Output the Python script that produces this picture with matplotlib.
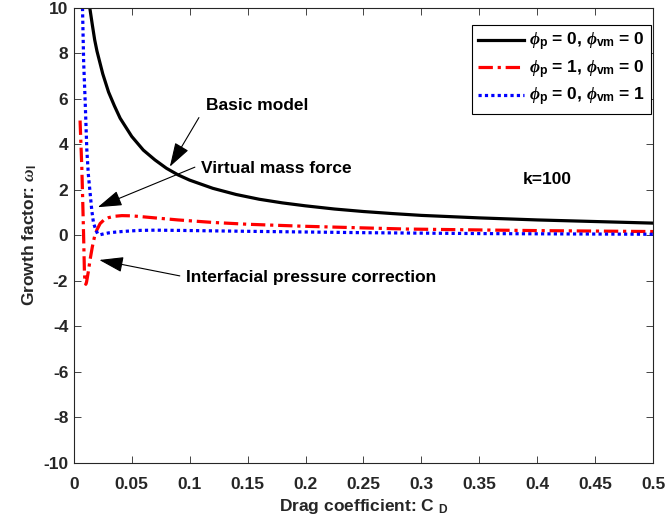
import matplotlib
matplotlib.use('Agg')
import matplotlib.pyplot as plt
from matplotlib.ticker import FuncFormatter

# basic model: phi_p = 0, phi_vm = 0
cd_basic = [0.0138, 0.016, 0.018, 0.02, 0.025, 0.03, 0.035, 0.04, 0.05, 0.06,
            0.07, 0.08, 0.09, 0.1, 0.12, 0.14, 0.16, 0.18, 0.2, 0.225, 0.25,
            0.275, 0.3, 0.35, 0.4, 0.45, 0.5]
w_basic = [10.0, 9.25, 8.6, 8.1, 7.1, 6.3, 5.7, 5.15, 4.35, 3.75,
           3.32, 2.95, 2.66, 2.43, 2.07, 1.8, 1.59, 1.43, 1.3, 1.16, 1.05,
           0.96, 0.88, 0.77, 0.68, 0.61, 0.54]

# interfacial pressure correction: phi_p = 1, phi_vm = 0
cd_ipc = [0.0054, 0.006, 0.0069, 0.0077, 0.0084, 0.0092, 0.0098, 0.0104, 0.011,
          0.0125, 0.0141, 0.016, 0.0179, 0.02, 0.0227, 0.026, 0.03, 0.035,
          0.0415, 0.05, 0.057, 0.07, 0.09, 0.12, 0.15, 0.172, 0.2, 0.25,
          0.287, 0.35, 0.402, 0.45, 0.5]
w_ipc = [5.05, 4.2, 3.0, 1.5, 0.1, -1.7, -2.1, -2.15, -2.05,
         -1.6, -1.05, -0.5, -0.05, 0.25, 0.52, 0.68, 0.78, 0.84,
         0.87, 0.86, 0.83, 0.77, 0.68, 0.57, 0.49, 0.45, 0.4, 0.33,
         0.28, 0.24, 0.21, 0.19, 0.17]

# virtual mass force: phi_p = 0, phi_vm = 1
cd_vm = [0.0075, 0.0085, 0.0098, 0.0112, 0.0125, 0.0141, 0.0155, 0.017, 0.019,
         0.0205, 0.0227, 0.026, 0.03, 0.035, 0.0415, 0.05, 0.057, 0.07, 0.09,
         0.12, 0.15, 0.2, 0.25, 0.3, 0.35, 0.4, 0.45, 0.5]
w_vm = [10.0, 7.6, 5.9, 3.8, 2.7, 1.85, 1.1, 0.55, 0.24,
        0.08, 0.03, 0.07, 0.11, 0.14, 0.17, 0.2, 0.22, 0.23, 0.22,
        0.2, 0.18, 0.15, 0.12, 0.1, 0.08, 0.07, 0.06, 0.05]

labels = [r'$\phi_{\mathbf{p}}$ = 0, $\phi_{\mathbf{vm}}$ = 0',
          r'$\phi_{\mathbf{p}}$ = 1, $\phi_{\mathbf{vm}}$ = 0',
          r'$\phi_{\mathbf{p}}$ = 0, $\phi_{\mathbf{vm}}$ = 1']

plt.rcParams['font.family'] = ['Liberation Sans', 'DejaVu Sans']
plt.rcParams['font.weight'] = 'bold'
plt.rcParams['axes.unicode_minus'] = False
plt.rcParams['mathtext.fontset'] = 'custom'
plt.rcParams['mathtext.rm'] = 'Liberation Sans:bold'
plt.rcParams['mathtext.bf'] = 'Liberation Sans:bold'
plt.rcParams['mathtext.it'] = 'Liberation Serif:italic'

fs = 12.5
fig = plt.figure(figsize=(6.65, 5.29), dpi=100)
ax = fig.add_axes([0.111, 0.125, 0.871, 0.860])

ax.plot(cd_basic, w_basic, color='k', lw=2.3, label=labels[0])
ax.plot(cd_ipc, w_ipc, color='r', lw=2.3, dashes=(4.5, 1.5, 1, 1.5), label=labels[1])
ax.plot(cd_vm, w_vm, color='b', lw=2.3, dashes=(1, 1), label=labels[2])

ax.set_xlim(0, 0.5)
ax.set_ylim(-10, 10)
ax.set_xticks([i * 0.05 for i in range(11)])
ax.set_yticks(range(-10, 11, 2))
ax.xaxis.set_major_formatter(FuncFormatter(lambda v, p: '%g' % round(v, 3)))
ax.tick_params(direction='in', top=True, right=True, labelsize=fs,
               colors='#262626', length=5, width=0.6, pad=4)
ax.tick_params(axis='x', pad=10)
for s in ax.spines.values():
    s.set_color('#262626')
    s.set_linewidth(0.8)

ax.set_xlabel(r'Drag coefficient: C $_{\mathbf{D}}$', fontsize=fs, fontweight='bold',
              color='#262626', labelpad=4)
ax.set_ylabel(r'Growth factor: $\omega_{\mathbf{I}}$', fontsize=fs, fontweight='bold',
              color='#262626', labelpad=3)

aprops = dict(arrowstyle='-|>,head_length=1.0,head_width=0.32', color='k',
              lw=0.8, mutation_scale=15, shrinkA=0, shrinkB=0)
ax.annotate('', xy=(0.0829, 3.02), xytext=(0.108, 5.18), arrowprops=aprops)
ax.text(0.114, 5.7, 'Basic model', fontsize=fs, fontweight='bold', va='center')
ax.annotate('', xy=(0.0207, 1.24), xytext=(0.1045, 3.0), arrowprops=aprops)
ax.text(0.110, 2.93, 'Virtual mass force', fontsize=fs, fontweight='bold', va='center')
ax.annotate('', xy=(0.022, -1.08), xytext=(0.0915, -1.78), arrowprops=aprops)
ax.text(0.097, -1.84, 'Interfacial pressure correction', fontsize=fs,
        fontweight='bold', va='center')
ax.text(0.4085, 2.44, 'k=100', fontsize=fs, fontweight='bold', ha='center', va='center')

leg = ax.legend(loc='upper right', bbox_to_anchor=(0.9965, 0.963), fontsize=fs,
                handlelength=2.6, fancybox=False, edgecolor='k', framealpha=1,
                borderaxespad=0, labelspacing=0.3, borderpad=0.35, handletextpad=0.3)
leg.get_frame().set_linewidth(0.8)

fig.savefig('out.png', dpi=100)
